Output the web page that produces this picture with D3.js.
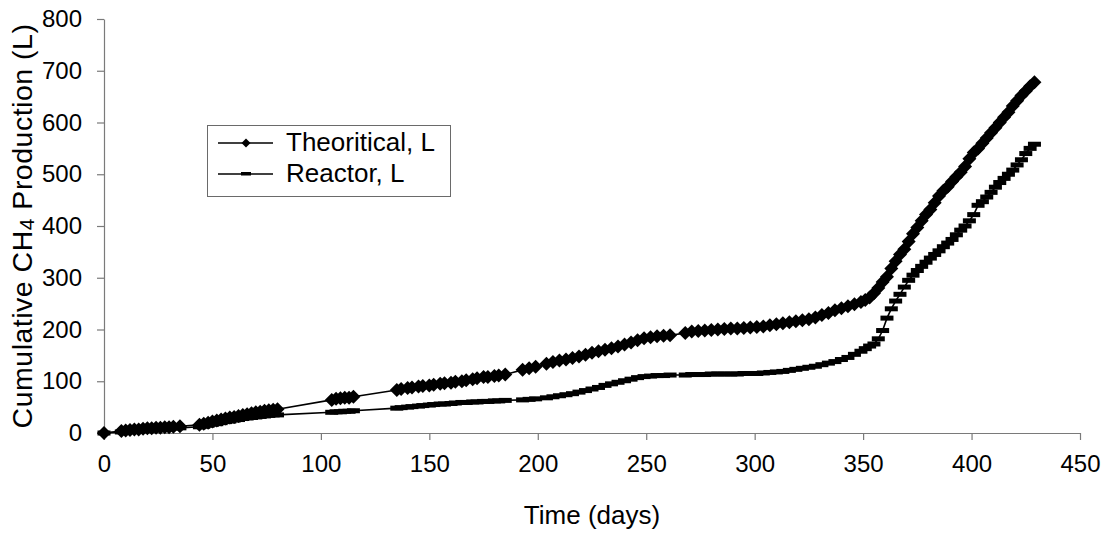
<!DOCTYPE html>
<html>
<head>
<meta charset="utf-8">
<script src="https://cdn.jsdelivr.net/npm/d3@7"></script>
<style>
  html, body { margin: 0; padding: 0; background: #fff; }
  svg { display: block; }
  text { font-family: "Liberation Sans", Arial, sans-serif; fill: #000; }
</style>
</head>
<body>
<svg id="chart" width="1117" height="538"></svg>
<script>
// ---- data ----
const days = [
  0, 8, 10, 12, 14, 16, 18, 20, 22, 24, 26, 28, 30, 32, 35,
  44, 46, 48, 50, 52, 54, 56, 58, 60, 62, 64, 66, 68, 70, 72, 74, 76, 78, 80,
  105, 107, 109, 111, 113, 115,
  135, 137, 140, 142, 145, 147, 150, 152, 155, 157, 160, 162, 165, 167, 170, 172, 175, 177, 180, 182, 185,
  193, 196, 199, 204, 207, 210, 213, 216, 219, 222, 225, 228, 231, 234, 237, 240, 243, 246, 249, 252, 255, 258, 261,
  268, 271, 274, 277, 280, 283, 286, 289, 292, 295, 298, 301, 304, 307, 310, 313, 316, 319, 322, 325, 328,
  331, 334, 337, 340, 343, 346, 349, 351, 353, 355, 357, 359, 361, 363, 365, 367, 369, 371, 373, 375, 377, 379,
  381, 383, 385, 387, 389, 391, 393, 395, 397, 399, 401, 403, 405, 407, 409, 411, 413, 415, 417, 419, 421, 423,
  425, 427, 429
];
const theoretical = [
  0, 4, 5, 6, 7, 7, 8, 9, 9, 10, 10, 11, 11, 12, 13,
  16, 18, 20, 22, 24, 26, 28, 30, 31, 33, 35, 36, 38, 40, 41, 43, 44, 45, 46,
  64, 66, 67, 68, 68, 70,
  83, 85, 87, 88, 90, 91, 92, 93, 95, 96, 97, 99, 100, 102, 104, 106, 108, 108, 110, 111, 113,
  122, 125, 128, 134, 137, 140, 142, 145, 148, 151, 155, 158, 161, 164, 167, 171, 175, 179, 183, 185, 187, 188, 189,
  193, 196, 197, 198, 199, 200, 201, 202, 202, 203, 204, 205, 206, 208, 210, 212, 214, 216, 218, 220, 223,
  228, 232, 237, 241, 245, 249, 253, 257, 262, 270, 280, 292, 302, 318, 332, 345, 355, 370, 385, 397, 410, 422,
  432, 445, 458, 468, 476, 486, 495, 504, 515, 530, 542, 550, 560, 570, 580, 590, 600, 610, 620, 632, 642, 652,
  661, 670, 678
];
const reactor = [
  0, 2, 3, 4, 5, 5, 6, 7, 7, 8, 8, 9, 9, 10, 10,
  12, 13, 15, 17, 18, 20, 22, 23, 25, 26, 28, 29, 30, 31, 32, 33, 34, 35, 35,
  40, 41, 41, 42, 42, 43,
  48, 49, 50, 51, 52, 53, 54, 55, 56, 56, 57, 58, 59, 59, 60, 60, 61, 61, 62, 62, 63,
  64, 65, 66, 68, 70, 72, 74, 76, 79, 82, 85, 88, 92, 95, 98, 101, 104, 107, 109, 110, 111, 111, 112,
  112, 113, 113, 113, 114, 114, 114, 114, 114, 115, 115, 115, 116, 117, 118, 119, 121, 123, 125, 127, 129,
  132, 135, 138, 142, 146, 152, 158, 163, 168, 172, 182, 198, 222, 240, 255, 268, 282, 295, 305, 314, 322, 330,
  338, 345, 352, 360, 367, 374, 383, 392, 400, 410, 422, 440, 447, 456, 465, 475, 484, 492, 500, 508, 518, 528,
  540, 550, 558
];
const seriesNames = ["Theoritical, L", "Reactor, L"];
const xTicks = [0, 50, 100, 150, 200, 250, 300, 350, 400, 450];
const yTicks = [0, 100, 200, 300, 400, 500, 600, 700, 800];
const xTitle = "Time (days)";

// ---- drawing ----
const svg = d3.select("#chart");
svg.append("rect").attr("width", 1117).attr("height", 538).attr("fill", "#fff");

const x = d3.scaleLinear().domain([0, 450]).range([104, 1080]);
const y = d3.scaleLinear().domain([0, 800]).range([433, 19]);

const axisColor = "#7a7a7a";

const gx = svg.append("g").attr("transform", `translate(0,${y(0)})`)
  .call(d3.axisBottom(x).tickValues(xTicks).tickSize(7).tickSizeOuter(0).tickPadding(15).tickFormat(d3.format("d")));
const gy = svg.append("g").attr("transform", `translate(${x(0)},0)`)
  .call(d3.axisLeft(y).tickValues(yTicks).tickSize(7).tickSizeOuter(0).tickPadding(15).tickFormat(d3.format("d")));
[gx, gy].forEach(g => {
  g.select(".domain").attr("stroke", axisColor).attr("stroke-width", 1.2);
  g.selectAll(".tick line").attr("stroke", axisColor).attr("stroke-width", 1.2);
  g.selectAll(".tick text").attr("font-size", 24).attr("fill", "#000")
    .attr("font-family", "'Liberation Sans', Arial, sans-serif");
});

// axis titles
svg.append("text").attr("x", x(225)).attr("y", 524).attr("text-anchor", "middle")
  .attr("font-size", 26).text(xTitle);

const yt = svg.append("text").attr("transform", "translate(32,226) rotate(-90)")
  .attr("text-anchor", "middle").attr("font-size", 28.5).attr("letter-spacing", 0.5);
yt.append("tspan").text("Cumulative CH");
yt.append("tspan").attr("font-size", 21).attr("dy", 2).text("4");
yt.append("tspan").attr("dy", -2).text(" Production (L)");

const pts = days.map((d, i) => ({ d, t: theoretical[i], r: reactor[i] }));

const lineT = d3.line().x(p => x(p.d)).y(p => y(p.t));
const lineR = d3.line().x(p => x(p.d)).y(p => y(p.r));

const plot = svg.append("g");
const diamond = (cx, cy, s) => `M${cx},${cy - s}L${cx + s},${cy}L${cx},${cy + s}L${cx - s},${cy}Z`;

// series 1: Theoritical
plot.append("path").datum(pts).attr("d", lineT).attr("fill", "none").attr("stroke", "#000").attr("stroke-width", 1.6);
plot.append("g").selectAll("path").data(pts).join("path")
  .attr("d", p => diamond(x(p.d), y(p.t), 7)).attr("fill", "#000");

// series 2: Reactor
plot.append("path").datum(pts).attr("d", lineR).attr("fill", "none").attr("stroke", "#000").attr("stroke-width", 1.6);
plot.append("g").selectAll("rect").data(pts).join("rect")
  .attr("x", p => x(p.d) - 6.5).attr("y", p => y(p.r) - 2.5)
  .attr("width", 13).attr("height", 5).attr("fill", "#000");

// legend
const lg = svg.append("g");
lg.append("rect").attr("x", 207.5).attr("y", 125.5).attr("width", 243).attr("height", 71)
  .attr("fill", "#fff").attr("stroke", "#6a6a6a").attr("stroke-width", 1);
const rows = [143, 174];
seriesNames.forEach((name, i) => {
  const yy = rows[i];
  lg.append("line").attr("x1", 218).attr("x2", 273).attr("y1", yy).attr("y2", yy)
    .attr("stroke", "#000").attr("stroke-width", 1.6);
  if (i === 0) {
    lg.append("path").attr("d", diamond(246, yy, 4.5)).attr("fill", "#000");
  } else {
    lg.append("rect").attr("x", 241).attr("y", yy - 2).attr("width", 10).attr("height", 3.5).attr("fill", "#000");
  }
  lg.append("text").attr("x", 286).attr("y", yy + 8).attr("font-size", 26).text(name);
});
</script>
</body>
</html>
